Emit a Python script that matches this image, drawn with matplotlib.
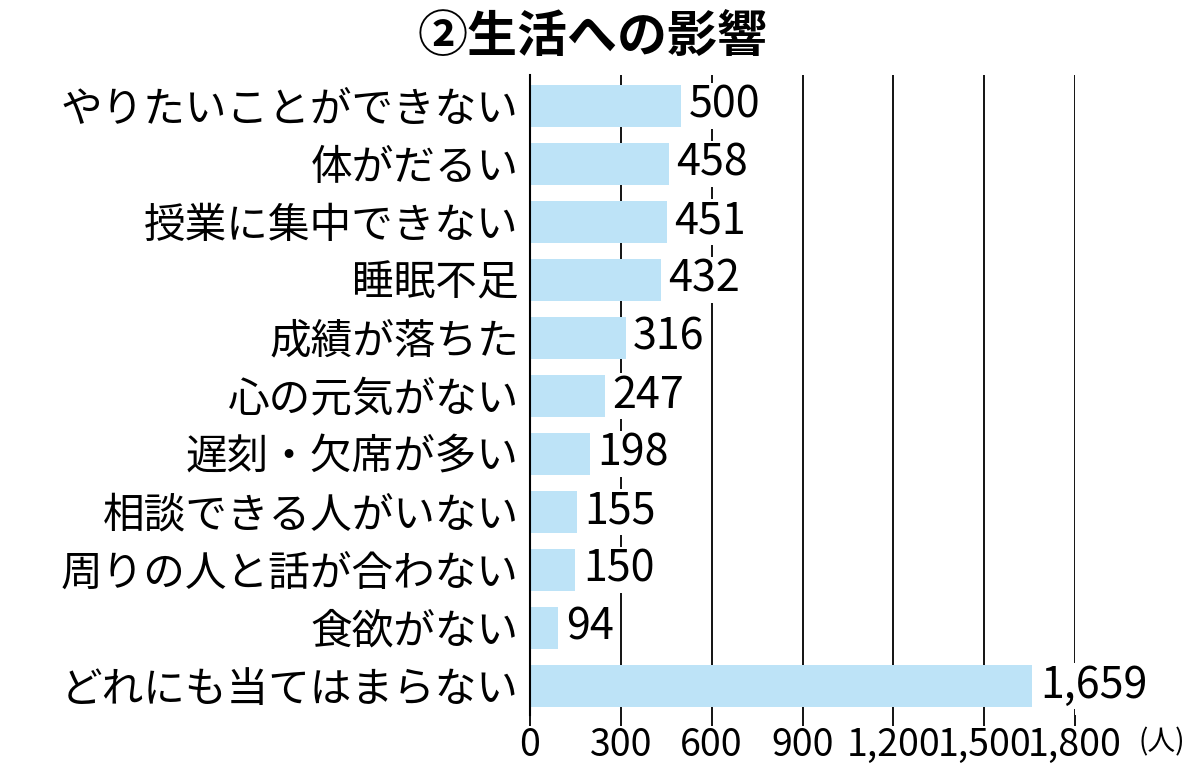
import matplotlib
matplotlib.use("Agg")
import matplotlib.pyplot as plt

plt.rcParams['font.family'] = ['Noto Sans CJK JP', 'DejaVu Sans']

categories = ["やりたいことができない", "体がだるい", "授業に集中できない", "睡眠不足",
              "成績が落ちた", "心の元気がない", "遅刻・欠席が多い", "相談できる人がいない",
              "周りの人と話が合わない", "食欲がない", "どれにも当てはまらない"]
values = [500, 458, 451, 432, 316, 247, 198, 155, 150, 94, 1659]
xticks = [0, 300, 600, 900, 1200, 1500, 1800]
xtick_labels = ["0", "300", "600", "900", "1,200", "1,500", "1,800"]
title = "②生活への影響"
unit = "(人)"

fig = plt.figure(figsize=(12, 7.66), dpi=100)
ax = fig.add_axes([530/1200, 1-715/766, 545/1200, 640/766])

ypos = list(range(len(categories)))
ax.barh(ypos, values, height=0.72, color="#bde3f7", zorder=2)
ax.set_xlim(0, 1800)
ax.set_ylim(len(categories) - 0.5, -0.53)

ax.set_xticks(xticks)
ax.set_xticklabels(xtick_labels, fontsize=27)
ax.set_yticks(ypos)
ax.set_yticklabels(categories, fontsize=30)
ax.tick_params(axis='y', length=0, pad=8)
ax.tick_params(axis='x', length=8, width=1.3, color='black', pad=0, direction='out')
ax.grid(axis='x', color='black', linewidth=1.3, zorder=0)
ax.set_axisbelow(True)
for s in ['top', 'right', 'bottom']:
    ax.spines[s].set_visible(False)
ax.spines['left'].set_linewidth(1.5)
ax.spines['left'].set_zorder(3)

for y, v in zip(ypos, values):
    ax.text(v + 25, y, f"{v:,}", va='center', ha='left', fontsize=31,
            bbox=dict(facecolor='white', edgecolor='none', pad=0.5), zorder=4)

fig.text(1162/1200, 1-742/766, unit, fontsize=20, ha='center', va='center')
fig.text(593/1200, 1-38/766, title, fontsize=36, fontweight='bold', ha='center', va='center')

fig.savefig("out.png", dpi=100, facecolor='white')
